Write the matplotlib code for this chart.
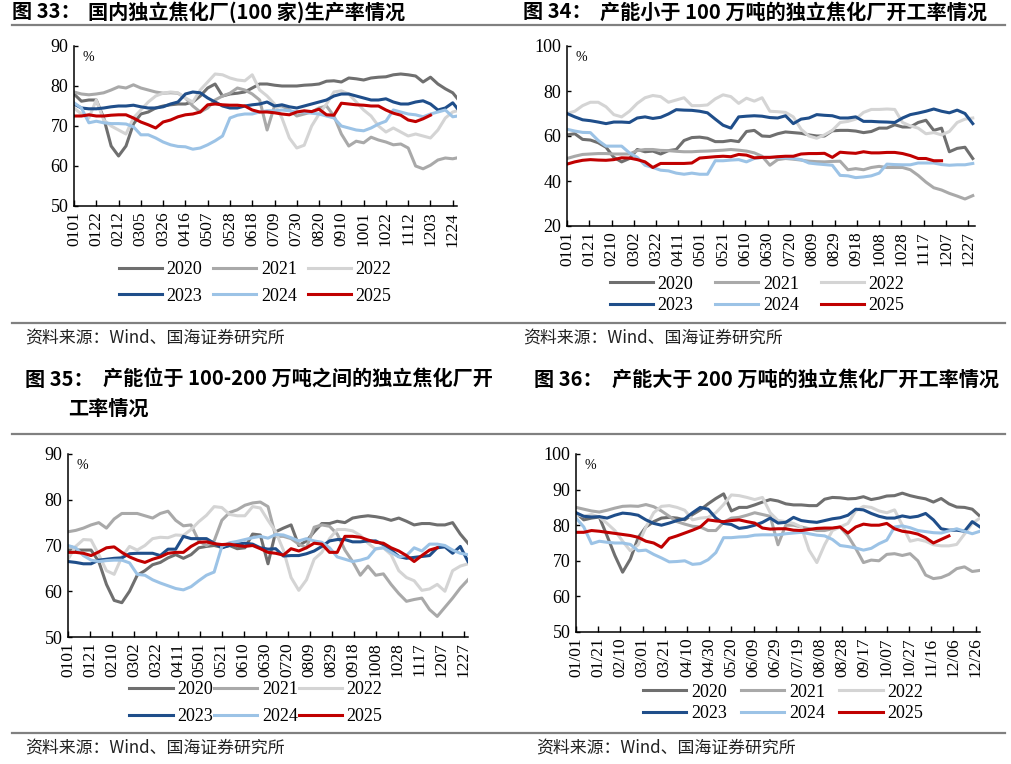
import numpy as np
import matplotlib.pyplot as plt
from matplotlib.lines import Line2D

# 周度数据, 第 i 周对应年内第 7*i 天
years = ['2020', '2021', '2022', '2023', '2024', '2025']
colors = ['#6f6f6f', '#a9a9a9', '#d4d4d4', '#1f4e8a', '#9cc3e6', '#c00000']

# 图33 国内独立焦化厂(100家)生产率
p1_2020 = [78, 76.2, 76.5, 76.5, 72, 65, 62.5, 65, 70.5, 73, 73.5, 74.5, 75, 75.3, 75.5, 75.5, 76, 77.5, 79.5, 80.5,
           77.5, 78, 78.2, 78.5, 79.5, 80.5, 80.5, 80.2, 80, 80, 80, 80.2, 80.3, 80.5, 81.2, 81.3, 81, 82, 81.8, 81.5,
           82, 82.2, 82.3, 82.8, 83, 82.8, 82.5, 81, 82.2, 80.5, 79.3, 78.3, 76]
p1_2021 = [78.5, 78, 77.8, 78, 78.3, 79, 79.8, 79.5, 80.3, 79.5, 79, 78.5, 78.2, 78.3, 78.2, 77, 75, 73.5, 74.5, 76.5,
           77.5, 78.2, 79.5, 79, 78, 76.5, 69, 75, 75, 74, 72.5, 73, 73.5, 74.5, 75, 72.5, 68, 65, 66.2, 65.8,
           67.2, 66.5, 66, 65.3, 65.5, 64.5, 60, 59.3, 60.2, 61.5, 62, 61.8, 62.2]
p1_2022 = [74.5, 73, 72, 76.5, 71.5, 70, 69, 68, 72, 74, 76, 77.5, 78.2, 78.5, 78.3, 77, 76, 79, 81, 83,
           82.8, 82, 81.5, 81.3, 82.8, 79, 77.5, 75.5, 72, 67, 64.5, 65.2, 70, 73, 75.5, 78.5, 78.8, 78, 76, 74,
           72.5, 70, 68.5, 69.5, 68.5, 67.5, 68, 67.5, 67, 69, 72, 73.5, 74]
p1_2023 = [75.5, 74.5, 74.3, 74.3, 74.5, 74.8, 75, 75, 75.2, 74.8, 74.5, 74.5, 74.8, 75.5, 76, 78, 78.5, 78.3, 77, 76,
           75, 74.5, 74.5, 75, 75.3, 75.5, 76, 75, 75.3, 74.8, 74.5, 75, 75.5, 76, 76.5, 77.5, 78, 78, 77.5, 77,
           76.5, 76.5, 76.8, 76, 75.5, 75.5, 76, 76.3, 75.5, 74, 74.5, 75.8, 73.5]
p1_2024 = [75.8, 74.5, 70.8, 71.2, 70.8, 70.6, 70.6, 70.5, 69.8, 67.8, 67.8, 67, 66, 65.3, 64.9, 64.8, 64.2, 64.5, 65.3, 66.3,
           67.5, 72, 72.7, 73, 73, 73.5, 73.8, 73.8, 74, 73.8, 73.5, 73.5, 73.2, 73, 72.5, 72, 70, 69.5, 69, 68.8,
           69.5, 70.5, 71.2, 74, 73.5, 73, 72.8, 72.3, 73, 73.5, 74, 72.3, 72.6]
p1_2025 = [72.5, 72.5, 72.8, 72.5, 72.5, 72.7, 72.8, 72.8, 72, 71, 70.3, 69.5, 71, 71.5, 72.3, 72.8, 73, 73.5, 75.3, 75.5,
           75.3, 75.2, 75.2, 75, 74, 73.5, 73.5, 73.3, 73, 72.8, 73.5, 73.8, 73.6, 74.2, 72.8, 72.7, 75.7, 75.5, 75.3, 75.2,
           75, 75, 74, 73.2, 72.7, 71.5, 71.1, 71.8, 72.7]

# 图34 产能小于100万吨
p2_2020 = [60.5, 61, 58.5, 58.2, 57, 55, 50.5, 48.5, 50, 54, 53, 53.3, 52, 53.5, 54, 58, 59.3, 59.5, 59, 57.5,
           57.5, 58, 57.5, 62, 62.5, 60, 59.8, 61, 61.8, 61.5, 61.2, 60.5, 60, 60, 62.3, 62.5, 62.5, 62.2, 61.5, 62,
           63.5, 63.5, 65, 64, 64, 66, 67, 62.5, 63.5, 53, 54.5, 55, 50]
p2_2021 = [50, 51, 51.8, 52, 52.2, 52.2, 52, 52, 52, 53.5, 54, 54, 53.6, 53.5, 53.2, 53, 53, 53.2, 53.3, 53.5,
           53.7, 54, 53.7, 53.3, 52.5, 51, 47, 49.5, 50, 49.7, 49.3, 48.8, 48.6, 48.5, 48.7, 48.8, 45, 45.5, 45, 46,
           46.5, 46, 46, 46, 45, 42.5, 39.5, 37, 36, 34.5, 33.3, 32, 33.5]
p2_2022 = [70, 71, 73.5, 75, 75, 73, 69.5, 68.5, 71, 74.5, 77, 78, 77.5, 75, 76, 77, 73.5, 73.5, 73.8, 76.5,
           78.3, 77.5, 74.5, 76.8, 75.5, 77, 71, 70.8, 70.5, 68.5, 63, 60, 59, 60.5, 62.5, 66, 66.5, 67.5, 70.5, 71.8,
           71.8, 72, 71.8, 66, 64.5, 63.5, 61, 61.5, 60.5, 62, 66, 67.5, 68]
p2_2023 = [70, 68.5, 67.2, 66.8, 66.2, 65.5, 66.2, 66.2, 66, 68, 68.5, 67.8, 68.3, 69.8, 71.7, 71.5, 71.4, 71, 70.3, 67.5,
           64.8, 63.5, 68.5, 68.8, 69, 68.8, 68.2, 68, 69, 65.5, 67.5, 68, 69.5, 69.2, 69, 68, 68, 68.5, 66.5, 66.5,
           66.3, 66.2, 66, 68, 69.5, 70.2, 71, 72, 71, 70.3, 71.5, 70, 65.5]
p2_2024 = [63, 62.2, 61.6, 61.5, 58, 55.5, 55.5, 55.5, 52.5, 50.5, 47, 46, 44.8, 44.5, 43.5, 43, 43.5, 43, 43, 49,
           49, 49.3, 49.5, 48.5, 50, 50.5, 50.5, 50.5, 50.3, 50, 49.5, 48, 47.6, 47.3, 47, 42.5, 42.3, 41.5, 41.8, 42.3,
           43.5, 47.5, 47.3, 47.2, 47.2, 48, 48, 48, 47.3, 47, 47.2, 47.2, 47.8]
p2_2025 = [47.5, 48.5, 49.2, 49.5, 49.3, 49.2, 49.5, 50.3, 50.2, 49.5, 48.5, 46, 47.8, 47.8, 47.8, 47.8, 48, 50.2, 50.5, 50.8,
           51, 50.8, 51.8, 51.5, 50.3, 50.5, 50.5, 50.8, 51, 51, 52, 52.2, 52.2, 52.3, 50.5, 52.8, 52.5, 52.3, 53, 52.5,
           52.5, 52.7, 52.7, 52.2, 51.3, 50, 50, 49, 49]

# 图35 产能位于100-200万吨之间
p3_2020 = [69, 69, 69, 69, 66.5, 61.5, 58, 57.5, 60, 63.5, 64.5, 65.8, 66.3, 67.3, 68, 67.2, 68, 69.5, 69.8, 70,
           69.6, 70, 69.3, 69.5, 72.5, 72.3, 66, 73, 73.8, 74.5, 70, 71, 73, 74.8, 74.8, 75.3, 75, 76, 76.3, 76.5,
           76.3, 76, 75.5, 76, 75.3, 74.5, 74.8, 74.8, 74.5, 74.5, 75, 72.5, 70.5]
p3_2021 = [73, 73.3, 73.8, 74.5, 75, 73.8, 75.8, 77, 77, 77, 76.5, 76, 77, 77.5, 75.5, 74.3, 74.5, 71, 70, 71,
           75.5, 77.2, 77.8, 78.8, 79.3, 79.5, 78.5, 72, 72, 71.5, 70.3, 69.5, 74, 74.5, 74.2, 72.5, 69, 66.5, 63.5, 65.5,
           63.5, 63.8, 61.5, 59.5, 57.8, 58.2, 58.5, 56, 54.5, 56.5, 58.5, 60.7, 62.5]
p3_2022 = [67, 69.8, 71.3, 71.2, 68, 64.5, 63.7, 67.5, 69.8, 69, 70, 71.5, 71.8, 71.7, 72.3, 72.2, 73.5, 75.2, 76.6, 78.5,
           78.3, 76.8, 76.5, 76.5, 78.5, 78.2, 75.5, 73, 69, 63, 60.2, 62.5, 67, 68.5, 71.5, 73.5, 73.5, 73.2, 72.2, 70.5,
           69.2, 69.5, 68, 64.5, 63, 62.3, 60.2, 60.5, 61.5, 60, 64.5, 65.5, 66]
p3_2023 = [66.5, 66.3, 66, 66, 66.8, 67, 67.2, 67.3, 68.2, 68.3, 68.3, 68.3, 67.8, 69.2, 69.2, 72, 71.5, 71.5, 71.5, 70.5,
           69.5, 70, 70.3, 70.5, 70.3, 69.5, 69.2, 69.3, 67.7, 67.8, 67.8, 68.2, 68.8, 69.8, 71, 71.3, 71.3, 70.8, 70.8, 71,
           71, 70.2, 69, 67.6, 67.2, 67.4, 67.6, 67.8, 69.5, 69.7, 68.3, 69.8, 66.5]
p3_2024 = [70, 69.5, 67.8, 66.8, 66.5, 66.7, 66.8, 66.8, 66.2, 63.7, 63.5, 62.5, 61.8, 61.2, 60.6, 60.3, 61, 62.3, 63.5, 64.2,
           69.8, 70.6, 70.9, 71.3, 71.7, 72, 71.6, 72.4, 72.3, 71.7, 71, 71.5, 71, 70.7, 69.5, 67.5, 67, 66.5, 66.8, 67.3,
           69.3, 69.5, 68.5, 67.5, 67.8, 69.5, 68.8, 70.3, 70.3, 70, 69, 68.3, 68]
p3_2025 = [68.5, 68.5, 68.3, 67.8, 68.6, 69.5, 69.7, 68.5, 67.5, 66.8, 66.3, 67, 67.5, 68.3, 68.5, 68.5, 69.8, 70.7, 70.8, 70.4,
           70.2, 70.3, 70, 69.8, 70, 69.3, 68.5, 68.3, 67.9, 69.3, 68.8, 69.5, 70.5, 70.3, 68.5, 68.5, 72, 72, 71.8, 71.2,
           70.7, 70.5, 69.5, 68.8, 67.8, 66.5, 67.8, 69, 69.5]

# 图36 产能大于200万吨
p4_2020 = [83.5, 81.5, 82, 82.3, 77, 71.5, 66.8, 70.5, 76.5, 79.5, 81, 82, 82.2, 82, 81.5, 83, 84.3, 86, 87.5, 88.8,
           84, 85, 85, 85.7, 86.5, 87.2, 86.8, 86, 85.7, 85.7, 85.5, 85.5, 87.3, 87.8, 87.7, 87.4, 87.5, 88, 87.2, 87.6,
           88.2, 88.3, 89, 88.3, 87.8, 87.4, 86.5, 87.5, 86, 85.1, 85, 84.5, 82.5]
p4_2021 = [85, 84.5, 84, 83.7, 84.2, 84.8, 85.3, 85.4, 85.3, 85.8, 85.2, 84, 82.5, 81, 80.3, 79.7, 79.5, 78.5, 78.5, 80.8,
           82, 82.2, 82.8, 83.5, 83, 82.5, 74.5, 80, 80, 79.5, 79, 78.5, 78.5, 79, 79.5, 77, 73.5, 69.5, 70.2, 70,
           71.8, 72, 71.5, 72, 70, 66, 65, 65.3, 66.2, 67.8, 68.3, 67, 67.3]
p4_2022 = [83, 82.5, 83, 82.3, 80.5, 78.5, 75.5, 72.8, 74.5, 79.5, 83.5, 85.3, 85.5, 85, 84.2, 81.5, 82, 82.2, 83.5, 85.8,
           88.5, 88.3, 87.8, 87.2, 87.8, 83.5, 81.3, 81, 80.5, 79.5, 73, 69.5, 74.5, 78.5, 79.5, 80.5, 84, 85.3, 85, 84,
           83.5, 84.3, 80, 75.5, 76, 75.5, 74.5, 74.2, 74.2, 74.6, 77.5, 80.5, 82]
p4_2023 = [83.5, 82.5, 82.3, 82.4, 82, 82.8, 83.4, 83.2, 82.8, 81.5, 80.5, 80, 80.6, 81.3, 81.8, 83.5, 85, 84.5, 82, 80.5,
           80.2, 79.1, 79.4, 80, 80.8, 82, 80.6, 80.8, 82.2, 81.3, 81, 80.8, 81.3, 81.8, 82.1, 82.8, 84.5, 84.3, 83.3, 82.5,
           82, 82, 82.6, 82.2, 82.5, 83.3, 81.5, 79, 78.6, 78.6, 78.3, 81, 79.5]
p4_2024 = [82, 79.5, 74.8, 75.5, 75.2, 75, 75, 74.6, 72.8, 73, 71.8, 70.8, 69.7, 69.8, 70, 69, 69.2, 70.3, 72.3, 76.5,
           76.5, 76.7, 76.8, 77.2, 77.3, 77.3, 77.3, 77.6, 77.8, 78, 77.6, 77.2, 77, 76, 74.3, 74, 73.6, 73, 73.5, 74.8,
           75.8, 79.5, 79.8, 79.3, 78.5, 78.2, 77.9, 77.8, 78.4, 79, 78.3, 77.6, 78.3]
p4_2025 = [78, 78, 78.5, 78.3, 78, 77.7, 77.4, 77.1, 76.6, 75.5, 75, 73.8, 76.3, 77, 77.8, 78.6, 79.5, 81.5, 81.2, 81,
           81.3, 81.5, 81, 80.6, 79.2, 78.9, 79, 79, 78.6, 78.5, 78.8, 79.1, 79.2, 79.2, 79.5, 77.8, 79.5, 80.3, 80, 80,
           80.5, 79, 78.3, 78, 77.5, 76.5, 75, 76, 77]

# 横轴标签
ticks_21 = ['0101', '0122', '0212', '0305', '0326', '0416', '0507', '0528', '0618', '0709', '0730', '0820',
            '0910', '1001', '1022', '1112', '1203', '1224']
ticks_20 = ['0101', '0121', '0210', '0302', '0322', '0411', '0501', '0521', '0610', '0630', '0720', '0809',
            '0829', '0918', '1008', '1028', '1117', '1207', '1227']
ticks_20s = ['01/01', '01/21', '02/10', '03/01', '03/21', '04/10', '04/30', '05/20', '06/09', '06/29', '07/19',
             '08/08', '08/28', '09/17', '10/07', '10/27', '11/16', '12/06', '12/26']

SERIF = ['Liberation Serif', 'DejaVu Serif']
CJK = ['Noto Sans CJK SC', 'DejaVu Sans']

W, H = 1012, 764
fig = plt.figure(figsize=(W / 100, H / 100), dpi=100)
fig.patch.set_facecolor('white')


def box(l, t, r, b):
    return [l / W, 1 - b / H, (r - l) / W, (b - t) / H]


def draw_panel(rect, series, xlabels, step, xmax, ylim, ystep, leg_xy, leg_space, col_space):
    ax = fig.add_axes(box(*rect))
    handles = []
    for name, vals, c in zip(years, series, colors):
        x = np.arange(len(vals)) * 7
        h, = ax.plot(x, vals, color=c, lw=2.2, label=name, solid_joinstyle='round')
        handles.append(h)
    ax.set_xlim(0, xmax)
    ax.set_ylim(*ylim)
    ax.set_yticks(np.arange(ylim[0], ylim[1] + 0.1, ystep))
    ax.set_xticks(np.arange(len(xlabels)) * step)
    ax.set_xticklabels(xlabels, rotation=90, family=SERIF, fontsize=12.5)
    for lab in ax.get_yticklabels():
        lab.set_family(SERIF)
        lab.set_fontsize(13)
    ax.tick_params(axis='both', direction='in', length=4, width=1, pad=4)
    ax.tick_params(axis='y', length=3)
    for s in ['top', 'right']:
        ax.spines[s].set_visible(False)
    for s in ['left', 'bottom']:
        ax.spines[s].set_linewidth(1.1)
    ax.text(0.022, 0.97, '%', transform=ax.transAxes, ha='left', va='top', family=SERIF, fontsize=10)
    order = [0, 3, 1, 4, 2, 5]
    fig.legend([handles[i] for i in order], [years[i] for i in order], ncol=3, loc='center',
               bbox_to_anchor=(leg_xy[0] / W, 1 - leg_xy[1] / H), frameon=False,
               prop={'family': SERIF, 'size': 13}, handlelength=2.4, handletextpad=0.25,
               columnspacing=col_space, labelspacing=leg_space)
    return ax


draw_panel((74, 46, 457, 206), [p1_2020, p1_2021, p1_2022, p1_2023, p1_2024, p1_2025],
           ticks_21, 21, 361, (50, 90), 10, (255, 283), 0.5, 0.6)
draw_panel((567, 46, 975, 226), [p2_2020, p2_2021, p2_2022, p2_2023, p2_2024, p2_2025],
           ticks_20, 20, 366, (20, 100), 20, (757, 295), 0.25, 1.2)
draw_panel((68, 454, 468, 637), [p3_2020, p3_2021, p3_2022, p3_2023, p3_2024, p3_2025],
           ticks_20, 20, 364, (50, 90), 10, (256, 703), 0.55, 0.05)
draw_panel((576, 454, 980, 632), [p4_2020, p4_2021, p4_2022, p4_2023, p4_2024, p4_2025],
           ticks_20s, 20, 364, (50, 100), 10, (783, 703), 0.25, 0.8)

# 标题与来源
def ftext(x, y, s, **kw):
    fig.text(x / W, 1 - y / H, s, va='center', ha='left', **kw)


tkw = dict(family=CJK, fontsize=14.5, fontweight='bold')
ftext(12, 12, '图 33：', **tkw)
ftext(88, 12, '国内独立焦化厂(100 家)生产率情况', **tkw)
ftext(523, 12, '图 34：', **tkw)
ftext(600, 12, '产能小于 100 万吨的独立焦化厂开工率情况', **tkw)
ftext(25, 379, '图 35：', **tkw)
ftext(103, 379, '产能位于 100-200 万吨之间的独立焦化厂开', **tkw)
ftext(68, 408, '工率情况', **tkw)
ftext(534, 379, '图 36：', **tkw)
ftext(612, 379, '产能大于 200 万吨的独立焦化厂开工率情况', **tkw)

skw = dict(family=CJK, fontsize=12.2, color='#222222')
ftext(25, 338, '资料来源：Wind、国海证券研究所', **skw)
ftext(523, 338, '资料来源：Wind、国海证券研究所', **skw)
ftext(25, 747, '资料来源：Wind、国海证券研究所', **skw)
ftext(536, 747, '资料来源：Wind、国海证券研究所', **skw)

for yy in [25, 323, 434, 733]:
    fig.add_artist(Line2D([12 / W, 1005 / W], [1 - yy / H, 1 - yy / H], color='#808080', lw=1.6))

fig.savefig('out.png', dpi=100)
